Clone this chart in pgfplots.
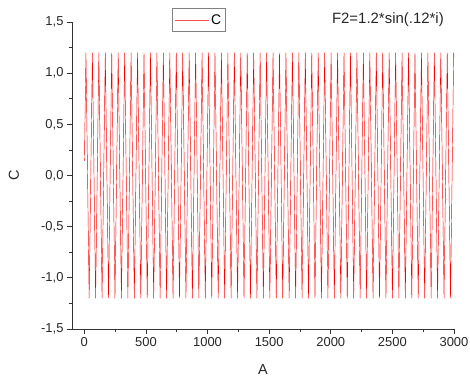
\documentclass[border=0pt]{standalone}
\usepackage{pgfplots}
\pgfplotsset{compat=1.18}
\usepackage{fontspec}
\setmainfont{Liberation Sans}
\begin{document}
\begin{tikzpicture}
\useasboundingbox (-72bp,-51bp) rectangle (398bp,329bp);
\begin{axis}[
  scale only axis,
  width=382bp, height=307bp,
  xmin=-100, xmax=3000,
  ymin=-1.5, ymax=1.5,
  clip=false,
  axis lines=left,
  axis line style={-, line width=0.8pt, black!80},
  tick align=outside,
  tick style={black!80, line width=0.8pt},
  major tick length=5bp,
  minor tick length=3bp,
  xtick={0,500,1000,1500,2000,2500,3000},
  minor xtick={250,750,1250,1750,2250,2750},
  ytick={-1.5,-1,-0.5,0,0.5,1,1.5},
  minor ytick={-1.25,-0.75,-0.25,0.25,0.75,1.25},
  /pgf/number format/assume math mode=true,
  /pgf/number format/1000 sep={},
  yticklabel style={/pgf/number format/.cd, use comma, fixed, fixed zerofill, precision=1},
  ticklabel style={font=\fontsize{13}{15}\selectfont, black!85},
  xlabel={A}, ylabel={C},
  label style={font=\fontsize{14.5}{16}\selectfont, black!85},
  xlabel style={at={(rel axis cs:0.5,-0.1336)}, anchor=center},
  ylabel style={at={(rel axis cs:-0.152,0.5)}, anchor=center},
  legend style={at={(0.262,1.0456)}, anchor=north west, draw=black!50, line width=0.6pt,
    font=\fontsize{14}{15}\selectfont, inner xsep=2bp, inner ysep=4bp, row sep=0pt},
  legend image code/.code={\draw[red!70, line width=0.8pt] (0bp,0bp) -- (34bp,0bp);},
]
\addplot[red, line width=0.45pt] coordinates {
(1,0.1437)
(13.09,1.2) (39.27,-1.2) (65.45,1.2) (91.63,-1.2) (117.81,1.2) (143.99,-1.2)
(170.17,1.2) (196.35,-1.2) (222.53,1.2) (248.71,-1.2) (274.89,1.2) (301.07,-1.2)
(327.25,1.2) (353.43,-1.2) (379.61,1.2) (405.79,-1.2) (431.97,1.2) (458.15,-1.2)
(484.33,1.2) (510.51,-1.2) (536.69,1.2) (562.87,-1.2) (589.05,1.2) (615.23,-1.2)
(641.41,1.2) (667.59,-1.2) (693.77,1.2) (719.95,-1.2) (746.13,1.2) (772.31,-1.2)
(798.49,1.2) (824.67,-1.2) (850.85,1.2) (877.03,-1.2) (903.21,1.2) (929.39,-1.2)
(955.57,1.2) (981.75,-1.2) (1007.93,1.2) (1034.11,-1.2) (1060.29,1.2) (1086.47,-1.2)
(1112.65,1.2) (1138.83,-1.2) (1165.01,1.2) (1191.19,-1.2) (1217.37,1.2) (1243.55,-1.2)
(1269.73,1.2) (1295.91,-1.2) (1322.09,1.2) (1348.27,-1.2) (1374.45,1.2) (1400.63,-1.2)
(1426.81,1.2) (1452.99,-1.2) (1479.17,1.2) (1505.35,-1.2) (1531.53,1.2) (1557.71,-1.2)
(1583.89,1.2) (1610.07,-1.2) (1636.25,1.2) (1662.43,-1.2) (1688.61,1.2) (1714.79,-1.2)
(1740.97,1.2) (1767.15,-1.2) (1793.33,1.2) (1819.51,-1.2) (1845.69,1.2) (1871.87,-1.2)
(1898.05,1.2) (1924.23,-1.2) (1950.41,1.2) (1976.59,-1.2) (2002.77,1.2) (2028.95,-1.2)
(2055.13,1.2) (2081.31,-1.2) (2107.49,1.2) (2133.67,-1.2) (2159.85,1.2) (2186.03,-1.2)
(2212.21,1.2) (2238.39,-1.2) (2264.57,1.2) (2290.75,-1.2) (2316.93,1.2) (2343.11,-1.2)
(2369.29,1.2) (2395.47,-1.2) (2421.65,1.2) (2447.83,-1.2) (2474.01,1.2) (2500.19,-1.2)
(2526.37,1.2) (2552.55,-1.2) (2578.73,1.2) (2604.91,-1.2) (2631.09,1.2) (2657.27,-1.2)
(2683.45,1.2) (2709.63,-1.2) (2735.81,1.2) (2761.99,-1.2) (2788.17,1.2) (2814.35,-1.2)
(2840.53,1.2) (2866.71,-1.2) (2892.89,1.2) (2919.07,-1.2) (2945.25,1.2) (2971.43,-1.2)
(2997.61,1.2)
(3000,1.1507)
};
\addlegendentry{C}
\node[font=\fontsize{15}{17}\selectfont, black!85] at (rel axis cs:0.827,1.0065) {F2=1.2*sin(.12*i)};
\end{axis}
\end{tikzpicture}
\end{document}
